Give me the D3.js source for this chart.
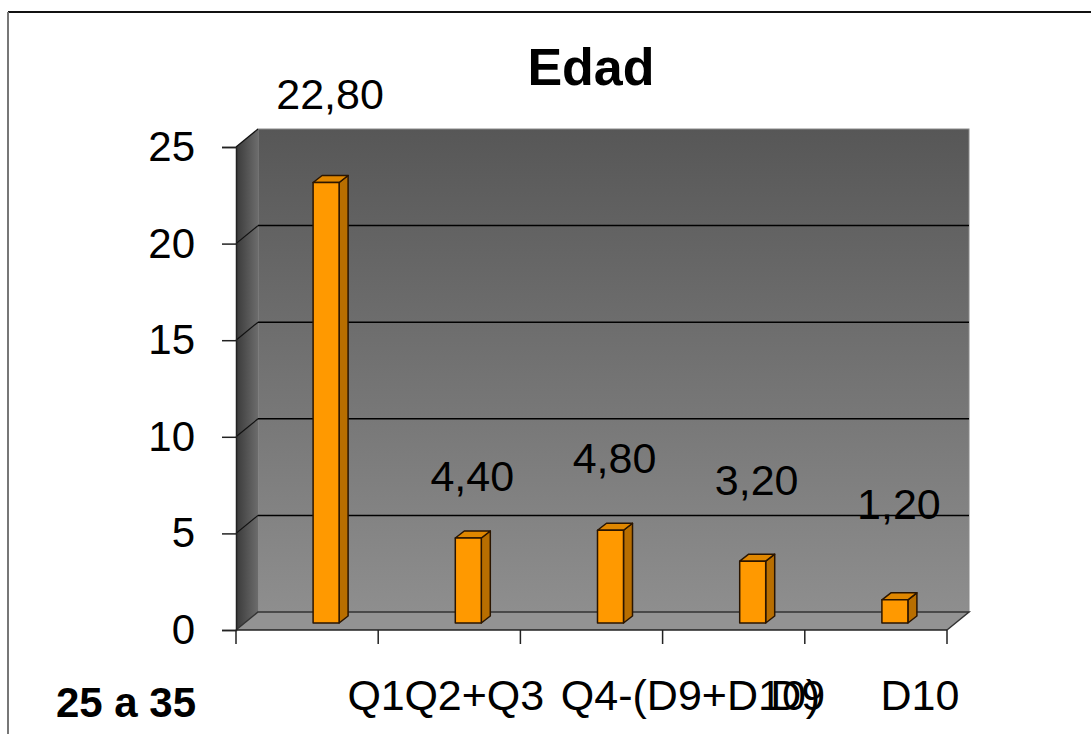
<!DOCTYPE html>
<html>
<head>
<meta charset="utf-8">
<script src="https://cdn.jsdelivr.net/npm/d3@7"></script>
<style>
  body { margin: 0; background: #fff; }
  svg { display: block; font-family: "Liberation Sans", Arial, sans-serif; }
</style>
</head>
<body>
<svg width="1091" height="734"></svg>
<script>
// data
var title = "Edad";
var seriesName = "25 a 35";
var categories = ["Q1", "Q2+Q3", "Q4-(D9+D10)", "D9", "D10"];
var values = [22.8, 4.4, 4.8, 3.2, 1.2];
var valueLabels = ["22,80", "4,40", "4,80", "3,20", "1,20"];
var yTicks = [0, 5, 10, 15, 20, 25];

// layout
var svg = d3.select("svg"),
    depth = {dx: 22, dy: 18},
    bar = {w: 26, dx: 9, dy: 7, shift: 6, sink: 7},
    labelLift = [74, 47, 57, 66, 81],        // excel's own placement of the value labels
    tickLabelShift = [69, 25, 99, 64, 44];   // and of the category labels

var x = d3.scaleBand().domain(categories).range([236, 947]).padding(0),
    y = d3.scaleLinear().domain([0, 25]).range([630, 147]);

var x0 = x.range()[0], x1 = x.range()[1],
    yBase = y(0), yTop = y(25);

var defs = svg.append("defs");
var gBack = defs.append("linearGradient").attr("id", "back")
    .attr("x1", 0).attr("y1", 0).attr("x2", 0).attr("y2", 1);
gBack.append("stop").attr("offset", "0%").attr("stop-color", "#575757");
gBack.append("stop").attr("offset", "100%").attr("stop-color", "#8e8e8e");
var gSide = defs.append("linearGradient").attr("id", "side")
    .attr("x1", 0).attr("y1", 0).attr("x2", 1).attr("y2", 0);
gSide.append("stop").attr("offset", "0%").attr("stop-color", "#3a3a3a");
gSide.append("stop").attr("offset", "100%").attr("stop-color", "#6c6c6c");

// frame
svg.append("line").attr("x1", 8).attr("y1", 12).attr("x2", 1091).attr("y2", 12)
   .attr("stroke", "#111").attr("stroke-width", 2);
svg.append("line").attr("x1", 8).attr("y1", 12).attr("x2", 8).attr("y2", 734)
   .attr("stroke", "#777").attr("stroke-width", 2);

// walls and floor
svg.append("rect")
   .attr("x", x0 + depth.dx).attr("y", yTop - depth.dy)
   .attr("width", x1 - x0).attr("height", yBase - yTop)
   .attr("fill", "url(#back)")
   .attr("stroke", "#8a8a8a").attr("stroke-width", 1);

svg.append("polygon")
   .attr("points", [[x0, yBase], [x0, yTop], [x0 + depth.dx, yTop - depth.dy], [x0 + depth.dx, yBase - depth.dy]].join(" "))
   .attr("fill", "url(#side)");

svg.append("polygon")
   .attr("points", [[x0, yBase], [x0 + depth.dx, yBase - depth.dy], [x1 + depth.dx, yBase - depth.dy], [x1, yBase]].join(" "))
   .attr("fill", "#939393");

// gridlines on back and side walls
svg.append("g").selectAll("line").data(yTicks.filter(function(d) { return d > 0 && d < 25; }))
   .enter().append("line")
   .attr("x1", x0 + depth.dx).attr("x2", x1 + depth.dx)
   .attr("y1", function(d) { return y(d) - depth.dy; })
   .attr("y2", function(d) { return y(d) - depth.dy; })
   .attr("stroke", "#000").attr("stroke-width", 1.5);

svg.append("g").selectAll("line").data(yTicks.filter(function(d) { return d > 0; }))
   .enter().append("line")
   .attr("x1", x0).attr("x2", x0 + depth.dx)
   .attr("y1", function(d) { return y(d); })
   .attr("y2", function(d) { return y(d) - depth.dy; })
   .attr("stroke", "#111").attr("stroke-width", 1.2);

// floor edges
svg.append("polyline")
   .attr("points", [[x0, yBase], [x0 + depth.dx, yBase - depth.dy], [x1 + depth.dx, yBase - depth.dy], [x1, yBase]].join(" "))
   .attr("fill", "none").attr("stroke", "#333").attr("stroke-width", 1.5);

// y axis
var yAxis = d3.axisLeft(y).tickValues(yTicks).tickSize(14).tickPadding(27)
    .tickFormat(d3.format("d"));
var ga = svg.append("g").attr("transform", "translate(" + x0 + ",0)").call(yAxis);
ga.select(".domain").attr("stroke", "#222").attr("stroke-width", 1.5);
ga.selectAll(".tick line").attr("stroke", "#222").attr("stroke-width", 1.5);
ga.selectAll(".tick text").attr("font-size", 42).attr("fill", "#000")
  .attr("font-family", "'Liberation Sans', Arial, sans-serif");

// x axis: ticks at category boundaries
var bounds = categories.map(function(c) { return x(c); }).concat([x1]);
svg.append("line").attr("x1", x0).attr("x2", x1).attr("y1", yBase).attr("y2", yBase)
   .attr("stroke", "#222").attr("stroke-width", 1.5);
svg.append("g").selectAll("line").data(bounds).enter().append("line")
   .attr("x1", function(d) { return d; }).attr("x2", function(d) { return d; })
   .attr("y1", yBase).attr("y2", yBase + 14)
   .attr("stroke", "#222").attr("stroke-width", 1.5);

svg.append("g").selectAll("text").data(categories).enter().append("text")
   .attr("x", function(d, i) { return x(d) + x.bandwidth() / 2 + tickLabelShift[i]; })
   .attr("y", 710)
   .attr("text-anchor", "middle")
   .attr("font-size", 43)
   .text(function(d) { return d; });

// bars
function bx(i) { return x(categories[i]) + x.bandwidth() / 2 + bar.shift; }
var base = yBase - bar.sink;

var bars = svg.append("g").selectAll("g").data(values).enter().append("g")
   .attr("stroke", "#2a1500").attr("stroke-width", 1.5).attr("stroke-linejoin", "round");

bars.append("polygon")
   .attr("fill", "#b86e00")
   .attr("points", function(d, i) {
     var l = bx(i) + bar.w, t = y(d) - bar.sink;
     return [[l, base], [l + bar.dx, base - bar.dy], [l + bar.dx, t - bar.dy], [l, t]].join(" ");
   });
bars.append("polygon")
   .attr("fill", "#e08700")
   .attr("points", function(d, i) {
     var l = bx(i), t = y(d) - bar.sink;
     return [[l, t], [l + bar.dx, t - bar.dy], [l + bar.w + bar.dx, t - bar.dy], [l + bar.w, t]].join(" ");
   });
bars.append("rect")
   .attr("fill", "#ff9900")
   .attr("x", function(d, i) { return bx(i); })
   .attr("y", function(d) { return y(d) - bar.sink; })
   .attr("width", bar.w)
   .attr("height", function(d) { return base - (y(d) - bar.sink); });

// value labels
svg.append("g").selectAll("text").data(values).enter().append("text")
   .attr("x", function(d, i) { return bx(i) + bar.w / 2 + 4; })
   .attr("y", function(d, i) { return y(d) - bar.sink - labelLift[i]; })
   .attr("text-anchor", "middle")
   .attr("font-size", 43)
   .text(function(d, i) { return valueLabels[i]; });

// title and series name
svg.append("text").attr("x", 591).attr("y", 85).attr("text-anchor", "middle")
   .attr("font-size", 52).attr("font-weight", "bold").text(title);
svg.append("text").attr("x", 126).attr("y", 717).attr("text-anchor", "middle")
   .attr("font-size", 42).attr("font-weight", "bold").text(seriesName);
</script>
</body>
</html>
